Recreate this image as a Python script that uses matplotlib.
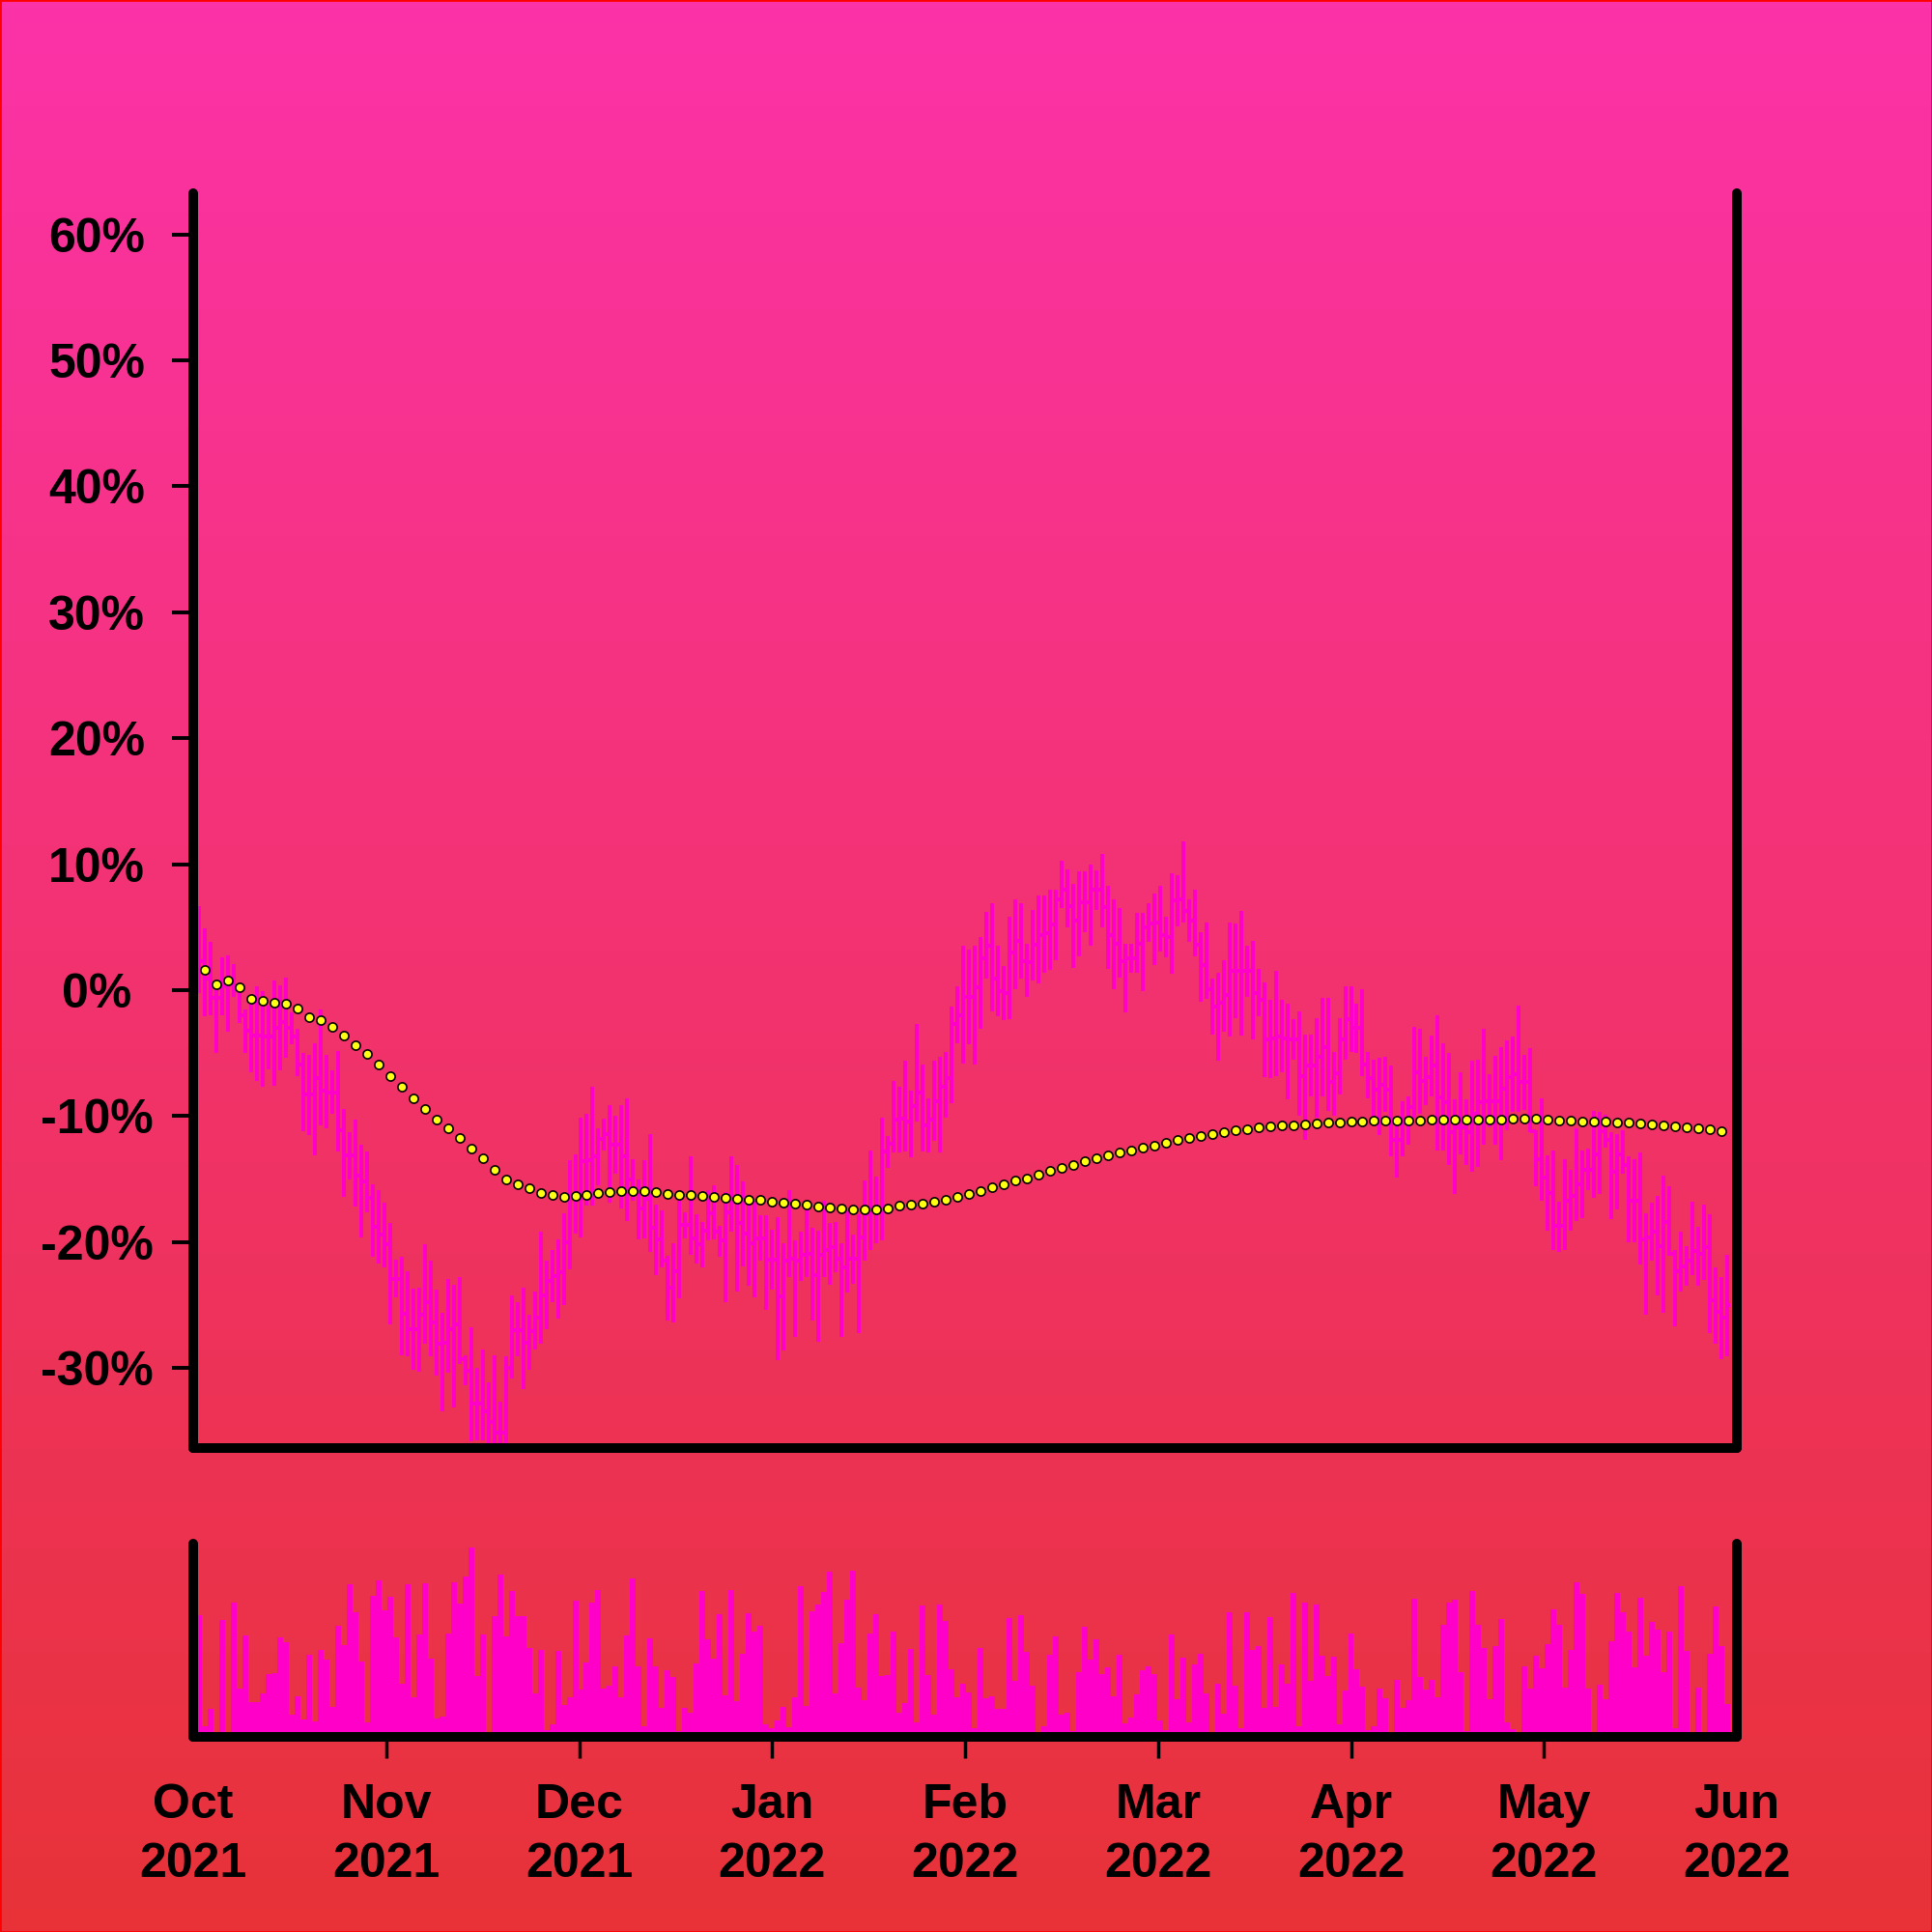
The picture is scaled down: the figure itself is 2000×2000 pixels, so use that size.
from matplotlib import pyplot as plt
from matplotlib.patches import Rectangle
import numpy as np

# daily bars, percent change; x is the bar index (month ticks are evenly spaced)
highs = [6.7, 4.9, 3.8, 0.8, 2.6, 2.8, 2.1, 0.5, -1.5, -0.7,
         0.3, -0.1, -1.2, 0.8, 0.4, 1.0, -1.8, -3.1, -5.0, -5.1,
         -4.2, -1.5, -5.1, -6.4, -4.8, -9.4, -11.3, -10.3, -12.3, -12.8,
         -15.4, -15.9, -16.9, -18.5, -21.4, -21.2, -22.3, -23.7, -23.6, -20.2,
         -21.5, -23.8, -25.6, -22.9, -23.4, -22.8, -29.0, -26.8, -30.0, -28.5,
         -31.1, -29.0, -32.7, -29.1, -24.2, -24.8, -23.6, -25.8, -23.9, -19.2,
         -21.5, -20.6, -19.8, -17.7, -13.5, -13.0, -10.1, -9.8, -7.7, -11.0,
         -10.2, -9.1, -10.0, -9.1, -8.6, -13.4, -15.0, -13.5, -11.4, -17.0,
         -17.5, -21.1, -20.1, -16.7, -17.6, -13.2, -17.8, -18.4, -15.9, -15.5,
         -18.7, -16.0, -13.2, -13.9, -15.2, -16.7, -16.7, -17.9, -17.9, -19.0,
         -18.0, -20.1, -15.9, -19.9, -19.2, -17.0, -18.9, -19.1, -16.7, -18.5,
         -18.4, -20.1, -17.5, -19.4, -17.8, -15.1, -12.7, -14.8, -10.1, -11.6,
         -7.2, -7.7, -5.6, -8.0, -2.7, -5.9, -8.6, -5.6, -5.3, -4.9,
         -1.3, 0.3, 3.5, 3.2, 3.5, 4.2, 6.2, 6.9, 3.5, 1.9,
         5.8, 7.2, 6.9, 3.7, 6.4, 7.5, 7.5, 8.0, 8.0, 10.3,
         9.6, 8.4, 9.4, 9.4, 10.0, 9.5, 10.8, 8.3, 7.2, 6.5,
         3.7, 3.7, 6.1, 6.1, 6.9, 7.7, 8.3, 5.8, 9.3, 9.1,
         11.8, 7.2, 8.0, 4.6, 5.4, 0.9, 1.4, 2.4, 5.4, 5.3,
         6.3, 3.5, 3.9, 1.7, 0.6, -0.8, 1.5, -0.8, -1.1, -2.3,
         -1.7, -3.5, -3.5, -2.2, -0.6, -0.6, -4.9, -2.2, 0.3, 0.3,
         -1.1, 0.1, -4.9, -5.5, -5.4, -5.3, -6.0, -10.6, -8.8, -8.4,
         -2.9, -3.1, -5.3, -3.6, -2.0, -4.2, -5.0, -8.7, -6.5, -8.7,
         -5.6, -5.5, -3.1, -6.7, -5.2, -4.5, -4.0, -3.7, -1.2, -5.1,
         -4.6, -11.1, -8.6, -13.1, -12.7, -16.8, -13.4, -14.3, -11.0, -12.7,
         -12.6, -9.6, -9.7, -9.9, -11.3, -11.4, -11.1, -13.2, -13.4, -12.9,
         -17.7, -16.9, -16.3, -14.7, -15.6, -20.6, -19.2, -20.3, -16.8, -18.8,
         -17.0, -17.8, -22.0, -22.8, -21.0]

lows = [-0.2, -2.1, -2.0, -5.0, -2.0, -3.3, -0.5, -2.6, -5.0, -6.5,
        -7.2, -7.7, -6.3, -7.6, -6.4, -5.4, -4.3, -6.8, -11.2, -11.5,
        -13.1, -10.7, -11.0, -9.8, -12.8, -16.4, -15.0, -17.2, -19.6, -17.6,
        -21.2, -21.7, -22.0, -26.5, -24.4, -29.0, -29.1, -30.1, -30.3, -28.1,
        -29.1, -30.6, -33.4, -30.4, -33.1, -29.7, -31.4, -35.8, -35.7, -35.7,
        -37.5, -37.5, -37.5, -37.5, -30.8, -29.1, -31.7, -30.1, -28.5, -28.1,
        -26.9, -24.8, -26.1, -25.0, -22.2, -19.3, -19.6, -17.1, -17.1, -15.5,
        -12.7, -16.9, -14.6, -17.3, -18.3, -16.7, -19.8, -19.7, -20.8, -22.6,
        -22.0, -26.2, -26.4, -24.5, -19.7, -21.0, -21.7, -22.0, -19.9, -19.8,
        -21.2, -24.8, -19.2, -23.9, -21.9, -23.5, -24.4, -21.5, -25.4, -23.8,
        -29.4, -28.6, -22.8, -27.5, -23.1, -22.8, -26.2, -27.9, -22.8, -23.4,
        -22.4, -27.5, -24.0, -23.3, -27.2, -21.5, -20.6, -20.1, -19.9, -14.1,
        -12.9, -12.9, -12.8, -13.3, -10.4, -12.8, -12.9, -12.0, -12.9, -10.1,
        -9.0, -4.2, -5.8, -4.3, -5.9, -3.1, 0.9, -1.7, -2.1, -2.4,
        -2.3, 0.1, 0.9, -0.5, 0.8, 0.5, 1.4, 1.6, 2.4, 6.5,
        5.0, 1.8, 2.7, 4.6, 3.5, 6.4, 5.0, 1.7, 0.1, 1.0,
        -1.8, 1.4, 1.4, -0.1, 3.8, 2.0, 3.1, 2.6, 1.3, 5.1,
        5.4, 3.8, 2.7, -0.9, -0.7, -3.5, -5.6, -3.3, -3.7, -2.2,
        -3.6, -0.5, -3.9, -2.1, -6.9, -7.0, -6.8, -6.5, -8.7, -5.5,
        -10.0, -11.9, -8.4, -10.1, -8.4, -9.6, -10.0, -8.3, -5.5, -4.9,
        -5.0, -6.8, -8.6, -10.2, -11.5, -9.7, -13.2, -14.9, -13.2, -12.3,
        -10.1, -9.8, -9.1, -8.4, -12.7, -12.7, -13.9, -16.2, -13.0, -13.9,
        -14.4, -14.0, -12.3, -10.9, -12.3, -13.5, -11.1, -9.7, -9.7, -9.5,
        -11.3, -15.6, -16.7, -19.1, -20.6, -20.8, -20.6, -19.1, -18.3, -18.1,
        -15.9, -16.5, -16.2, -12.5, -18.2, -17.4, -14.6, -20.0, -20.0, -21.8,
        -25.8, -21.5, -24.2, -25.6, -21.1, -26.7, -23.9, -23.5, -22.6, -23.5,
        -23.0, -27.2, -28.1, -29.3, -29.1]

closes = [2.3, 0.9, -0.6, -0.6, 0.3, 0.8, 0.0, -2.0, -3.2, -3.6,
          -3.6, -3.7, -3.7, -3.0, -2.5, -3.0, -3.7, -5.9, -8.3, -8.3,
          -7.0, -8.0, -8.1, -8.1, -11.1, -13.1, -13.1, -14.7, -15.2, -16.5,
          -18.8, -19.4, -20.2, -22.9, -22.9, -25.7, -26.9, -26.9, -25.8, -24.8,
          -26.4, -28.1, -28.0, -26.9, -26.5, -29.3, -30.2, -32.8, -32.8, -33.4,
          -34.3, -35.1, -35.1, -30.0, -27.0, -27.0, -28.0, -27.1, -26.0, -24.2,
          -23.1, -22.7, -22.4, -20.0, -16.4, -16.1, -13.6, -13.5, -13.2, -11.8,
          -11.4, -12.3, -12.3, -13.2, -15.0, -15.9, -17.3, -16.6, -18.9, -19.8,
          -21.5, -23.6, -22.3, -18.6, -18.6, -19.7, -20.2, -19.1, -17.7, -19.2,
          -19.9, -17.6, -16.5, -18.5, -19.3, -20.1, -19.7, -19.7, -21.4, -21.4,
          -24.3, -21.5, -21.3, -21.5, -21.0, -20.9, -22.6, -21.0, -20.6, -20.4,
          -21.3, -22.0, -21.3, -21.3, -19.6, -17.8, -17.4, -17.3, -12.8, -12.2,
          -10.3, -10.2, -10.4, -9.2, -8.1, -10.7, -10.3, -8.8, -7.7, -7.0,
          -2.7, -2.0, -0.5, -0.5, 0.2, 2.5, 3.5, 0.9, -0.1, -0.2,
          3.0, 3.9, 2.3, 2.2, 3.6, 4.4, 4.5, 5.2, 7.2, 8.0,
          6.7, 5.5, 7.0, 7.0, 8.0, 8.0, 6.6, 4.4, 3.7, 2.3,
          2.5, 2.5, 3.7, 5.0, 5.3, 5.4, 4.4, 4.2, 7.1, 7.2,
          6.3, 5.5, 3.6, 2.0, 0.1, -1.3, -1.0, -0.4, 1.5, 1.5,
          1.5, 1.5, -0.2, -0.8, -3.9, -3.8, -3.7, -3.8, -3.9, -3.9,
          -6.8, -6.0, -6.0, -5.3, -4.5, -7.3, -6.6, -3.9, -2.3, -3.0,
          -3.0, -5.9, -7.0, -7.9, -7.5, -7.9, -11.9, -11.9, -10.5, -9.3,
          -6.5, -7.2, -6.9, -6.0, -8.5, -8.9, -11.3, -10.9, -10.9, -11.3,
          -9.8, -8.9, -8.8, -8.8, -8.8, -7.8, -6.9, -6.7, -7.3, -7.3,
          -11.2, -13.4, -14.9, -16.1, -18.7, -18.7, -16.7, -16.3, -15.4, -14.3,
          -14.3, -13.0, -11.2, -11.9, -14.4, -13.0, -13.9, -16.7, -16.7, -19.8,
          -19.6, -19.2, -20.3, -18.4, -20.9, -22.3, -21.9, -21.5, -20.7, -20.9,
          -20.4, -24.6, -25.5, -26.0, -25.0]
first_open = 3.0

# moving average, plotted on every second bar
ma = [1.6, 0.45, 0.74, 0.23, -0.69, -0.85, -0.98, -1.07, -1.49, -2.15,
      -2.41, -2.91, -3.58, -4.38, -5.08, -5.90, -6.83, -7.65, -8.57, -9.40,
      -10.29, -10.99, -11.75, -12.58, -13.37, -14.23, -15.02, -15.41, -15.75, -16.11,
      -16.29, -16.39, -16.36, -16.23, -16.13, -16.03, -15.95, -15.95, -15.92, -16.0,
      -16.15, -16.23, -16.28, -16.36, -16.41, -16.49, -16.54, -16.62, -16.67, -16.77,
      -16.87, -16.97, -17.05, -17.18, -17.23, -17.3, -17.41, -17.43, -17.41, -17.3,
      -17.13, -17.05, -16.92, -16.79, -16.64, -16.39, -16.18, -15.95, -15.67, -15.44,
      -15.13, -14.93, -14.67, -14.37, -14.08, -13.85, -13.6, -13.32, -13.09, -12.91,
      -12.73, -12.53, -12.32, -12.12, -11.89, -11.71, -11.55, -11.4, -11.3, -11.15,
      -11.02, -10.89, -10.81, -10.76, -10.71, -10.66, -10.61, -10.53, -10.48, -10.43,
      -10.41, -10.36, -10.36, -10.36, -10.36, -10.33, -10.30, -10.28, -10.30, -10.28,
      -10.28, -10.28, -10.25, -10.20, -10.20, -10.23, -10.30, -10.36, -10.38, -10.41,
      -10.41, -10.46, -10.48, -10.51, -10.56, -10.64, -10.71, -10.81, -10.89, -10.97,
      -11.04, -11.17]

volume = [63.2, 5.7, 14.3, 0.5, 60.3, 0.5, 69.5, 24.8, 52.3, 18.2,
          18.2, 22.3, 32.3, 33.2, 51.5, 49.0, 11.5, 21.0, 9.0, 42.3,
          8.2, 45.2, 39.8, 15.3, 57.3, 47.7, 79.0, 64.3, 39.0, 7.7,
          73.2, 81.2, 65.3, 72.7, 51.5, 27.3, 79.0, 20.3, 53.2, 79.3,
          40.7, 9.3, 10.3, 53.5, 79.8, 69.0, 83.2, 98.2, 31.5, 53.2,
          0.3, 62.7, 84.0, 51.8, 75.7, 62.7, 62.7, 46.0, 22.3, 44.8,
          3.7, 6.5, 44.3, 16.5, 20.7, 70.3, 24.3, 38.7, 69.5, 76.2,
          24.8, 26.5, 36.5, 20.7, 52.7, 82.0, 36.5, 5.3, 51.2, 36.5,
          14.8, 34.3, 31.0, 3.2, 14.8, 12.7, 38.2, 75.7, 50.3, 40.5,
          63.5, 21.5, 76.0, 18.7, 43.0, 64.0, 54.5, 57.3, 6.5, 4.3,
          8.5, 15.3, 5.2, 20.7, 78.2, 16.0, 64.8, 68.5, 75.2, 85.7,
          22.3, 48.5, 71.2, 86.0, 25.3, 19.0, 53.7, 63.3, 31.5, 32.0,
          54.3, 12.7, 17.3, 45.3, 7.7, 68.0, 31.8, 11.3, 68.5, 60.0,
          34.8, 20.7, 27.7, 22.8, 4.3, 46.2, 20.2, 21.0, 14.3, 14.3,
          61.5, 29.0, 63.0, 44.0, 26.5, 0.0, 5.3, 42.3, 52.0, 11.5,
          12.7, 3.2, 33.3, 57.2, 40.2, 50.3, 32.7, 36.0, 21.2, 42.3,
          7.2, 10.2, 22.2, 34.3, 36.3, 32.3, 8.7, 3.5, 52.8, 19.3,
          41.0, 7.3, 37.5, 42.8, 22.3, 0.0, 27.7, 12.2, 64.5, 26.5,
          4.5, 64.3, 45.0, 47.2, 15.0, 62.2, 15.7, 37.3, 27.5, 74.3,
          5.7, 69.7, 29.0, 68.5, 42.2, 31.5, 41.5, 6.5, 24.0, 53.5,
          34.8, 26.2, 3.5, 5.5, 25.0, 20.0, 0.0, 29.3, 15.2, 19.0,
          71.3, 31.0, 24.3, 29.3, 20.3, 58.0, 69.3, 71.2, 33.3, 2.8,
          75.3, 58.0, 46.0, 19.3, 47.2, 61.0, 7.3, 4.0, 0.0, 36.7,
          25.2, 42.2, 35.3, 47.8, 66.2, 57.8, 25.7, 45.2, 80.0, 73.8,
          25.0, 0.0, 26.8, 19.5, 49.5, 74.7, 64.5, 54.5, 36.0, 71.8,
          42.2, 59.3, 55.3, 33.7, 54.5, 4.5, 78.0, 44.3, 0.0, 25.5,
          0.0, 43.2, 67.3, 46.8, 17.2]

month_labels = ['Oct\n2021', 'Nov\n2021', 'Dec\n2021', 'Jan\n2022', 'Feb\n2022',
                'Mar\n2022', 'Apr\n2022', 'May\n2022', 'Jun\n2022']
pct_ticks = [-30, -20, -10, 0, 10, 20, 30, 40, 50, 60]

BAR = '#ff00c8'
TOP = (252 / 255, 51 / 255, 168 / 255)
BOTTOM = (232 / 255, 50 / 255, 56 / 255)


def draw():
    plt.rcParams['font.family'] = ['Liberation Sans', 'DejaVu Sans']
    plt.rcParams['font.weight'] = 'bold'

    n = len(closes)
    x = np.arange(1, n + 1)
    opens = np.r_[first_open, closes[:-1]]
    x_end = len(month_labels) - 1
    span = x_end * 100 / 3.0  # 8 months worth of bars

    fig = plt.figure(figsize=(20, 20), dpi=100)

    # background gradient
    bg = fig.add_axes([0, 0, 1, 1], zorder=-5)
    t = np.linspace(0, 1, 256)[:, None]
    grad = np.array(TOP)[None, :] * (1 - t) + np.array(BOTTOM)[None, :] * t
    bg.imshow(grad[:, None, :], aspect='auto', extent=[0, 1, 0, 1])
    bg.axis('off')

    ax = fig.add_axes([0.1, 0.2505, 0.799, 0.6495])
    ax.set_facecolor('none')
    ax.vlines(x, lows, highs, color=BAR, linewidth=1.5, antialiased=False)
    ax.hlines(opens, x - 0.5, x, color=BAR, linewidth=1.5, antialiased=False)
    ax.hlines(closes, x, x + 0.5, color=BAR, linewidth=1.5, antialiased=False)
    ax.plot(x[1::2], ma, 'o', ms=6.6, mfc='#ffff14', mec='black', mew=1.2, zorder=3)

    ax.set_xlim(0, span)
    ax.set_ylim(-36.35, 63.27)
    ax.set_xticks([])
    ax.set_yticks(pct_ticks)
    ax.set_yticklabels(['%d%%' % v for v in pct_ticks])
    ax.tick_params(axis='y', length=15.8, width=2.8, pad=56.2, labelsize=36)
    for lab in ax.get_yticklabels():
        lab.set_horizontalalignment('center')

    ax2 = fig.add_axes([0.1, 0.101, 0.799, 0.1])
    ax2.set_facecolor('none')
    ax2.bar(x, volume, width=1.0, color=BAR, linewidth=0)
    ax2.set_xlim(0, span)
    ax2.set_ylim(0, 100)
    ax2.set_yticks([])
    ax2.set_xticks(np.linspace(0, span, len(month_labels)))
    ax2.set_xticklabels(month_labels, linespacing=1.42)
    ax2.tick_params(axis='x', length=15.8, width=2.5, pad=19, labelsize=36)
    # no tick marks at the two corners, only the labels
    xt = ax2.xaxis.get_major_ticks()
    xt[0].tick1line.set_visible(False)
    xt[-1].tick1line.set_visible(False)

    for a in (ax, ax2):
        a.spines['top'].set_visible(False)
        for s in ('left', 'right', 'bottom'):
            a.spines[s].set_linewidth(7.2)
            a.spines[s].set_capstyle('round')
            a.spines[s].set_zorder(5)

    fig.patches.append(Rectangle((0, 0), 1, 1, transform=fig.transFigure,
                                 fill=False, edgecolor='#ff0000', linewidth=2))

    fig.savefig('out.png', dpi=100)


if __name__ == '__main__':
    draw()
